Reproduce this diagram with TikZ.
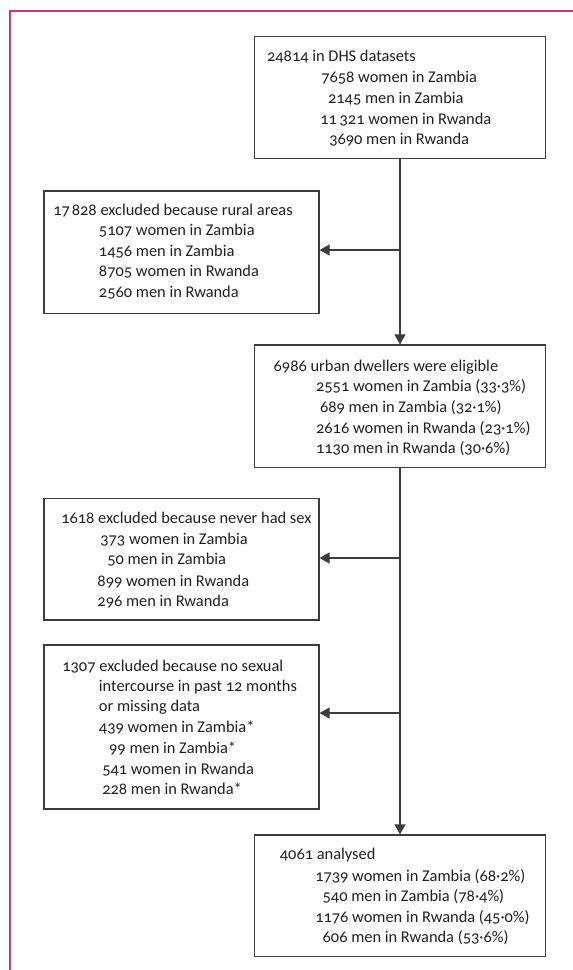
\documentclass[tikz,border=0pt]{standalone}
\usepackage{fontspec}
\setmainfont{Carlito}[Numbers=OldStyle]
\usetikzlibrary{arrows.meta,fit}
\definecolor{framepink}{RGB}{206,58,108}
\definecolor{boxgray}{RGB}{60,60,60}
\begin{document}
\begin{tikzpicture}[x=0.75pt,y=-0.75pt,
  box/.style={draw=boxgray,line width=0.9pt,inner sep=0pt,rectangle},
  ln/.style={anchor=base west,inner sep=0pt,font=\fontsize{12.3}{14}\selectfont,text=black!88},
  conn/.style={draw=boxgray,line width=0.9pt},
  arr/.style={conn,-{Triangle[length=7.5pt,width=8.25pt]}}]
\useasboundingbox (0,0) rectangle (573,970);
% frame
\draw[framepink,line width=0.9pt] (573,11) -- (10,11) -- (10,970);
% boxes
\node[box,fit={(254.7,36.7) (545.3,158.7)}] (b1) {};
\node[box,fit={(44,191) (319,313.3)}] (e1) {};
\node[box,fit={(254.7,345) (545.3,467.3)}] (b2) {};
\node[box,fit={(44,498.3) (319,620)}] (e2) {};
\node[box,fit={(44,645) (319,809)}] (e3) {};
\node[box,fit={(254.7,835) (545.3,956.7)}] (b3) {};
% junctions
\coordinate (j1) at (400,250);
\coordinate (j2) at (400,558);
\coordinate (j3) at (400,713);
% connectors
\draw[arr] (b1.south) -- (b2.north);
\draw[arr] (b2.south) -- (b3.north);
\draw[arr] (j1) -- (e1.east |- j1);
\draw[arr] (j2) -- (e2.east |- j2);
\draw[arr] (j3) -- (e3.east |- j3);
% texts b1
\node[ln] (t11) at (266.8,62) {24814 in DHS datasets};
\node[ln] (t12) at (321,82.7) {7658 women in Zambia};
\node[ln] (t13) at (327.8,103.7) {2145 men in Zambia};
\node[ln] (t14) at (320,124.3) {11\,321 women in Rwanda};
\node[ln] (t15) at (329,144.7) {3690 men in Rwanda};
% texts e1
\node[ln] (t21) at (53,215) {17\kern0.12em828 excluded because rural areas};
\node[ln] (t22) at (98.7,235) {5107 women in Zambia};
\node[ln] (t23) at (98.7,256) {1456 men in Zambia};
\node[ln] (t24) at (98.7,276.7) {8705 women in Rwanda};
\node[ln] (t25) at (98.7,297.7) {2560 men in Rwanda};
% texts b2
\node[ln] (t31) at (273.4,371) {6986 urban dwellers were eligible};
\node[ln] (t32) at (315.8,391.7) {2551 women in Zambia (33·3\%)};
\node[ln] (t33) at (319.8,412.7) {689 men in Zambia (32·1\%)};
\node[ln] (t34) at (315.8,433.3) {2616 women in Rwanda (23·1\%)};
\node[ln] (t35) at (315.8,453.7) {1130 men in Rwanda (30·6\%)};
% texts e2
\node[ln] (t41) at (61,523.7) {1618 excluded because never had sex};
\node[ln] (t42) at (100.1,544.7) {373 women in Zambia};
\node[ln] (t43) at (107,564.7) {50 men in Zambia};
\node[ln] (t44) at (97.2,586) {899 women in Rwanda};
\node[ln] (t45) at (97.2,606.3) {296 men in Rwanda};
% texts e3
\node[ln] (t51) at (62.1,671) {1307 excluded because no sexual};
\node[ln] (t52) at (98.7,691) {intercourse in past 12 months};
\node[ln] (t53) at (98.7,711.7) {or missing data};
\node[ln] (t54) at (98.7,732.7) {439 women in Zambia*};
\node[ln] (t55) at (108.9,753.7) {99 men in Zambia*};
\node[ln] (t56) at (102,774.3) {541 women in Rwanda};
\node[ln] (t57) at (102,794.3) {228 men in Rwanda*};
% texts b3
\node[ln] (t61) at (279.6,859.3) {4061 analysed};
\node[ln] (t62) at (315,881) {1739 women in Zambia (68·2\%)};
\node[ln] (t63) at (322.4,901.7) {540 men in Zambia (78·4\%)};
\node[ln] (t64) at (315,922.7) {1176 women in Rwanda (45·0\%)};
\node[ln] (t65) at (322.4,942.7) {606 men in Rwanda (53·6\%)};
\end{tikzpicture}
\end{document}
